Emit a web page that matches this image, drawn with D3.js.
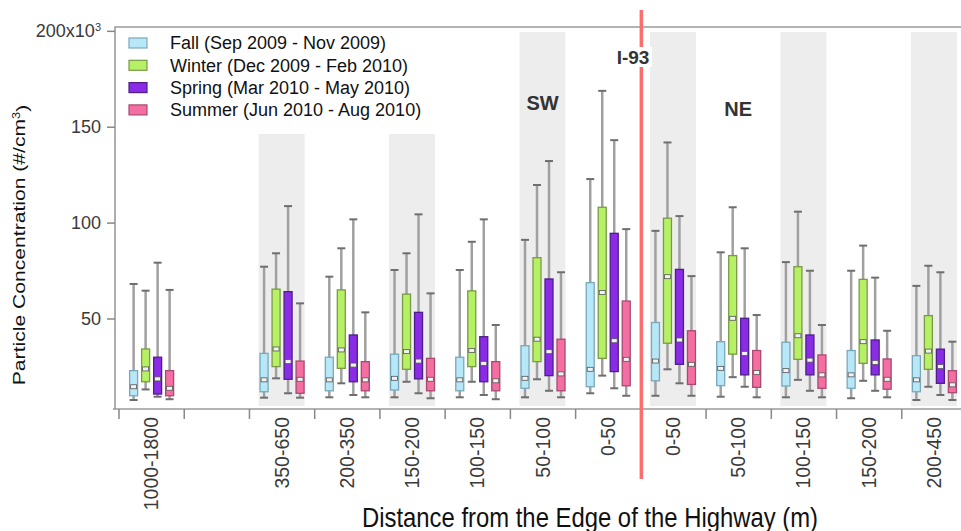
<!DOCTYPE html>
<html>
<head>
<meta charset="utf-8">
<script src="https://cdn.jsdelivr.net/npm/d3@7"></script>
<style>
  body { margin: 0; background: #fff; }
  svg { display: block; font-family: "Liberation Sans", Arial, sans-serif; }
  .tick text { fill: #3a3a3a; }
</style>
</head>
<body>
<div id="chart"></div>
<script>
// distance classes, left = SW side, right = NE side (slot 1 is an empty gap)
const labels = ['1000-1800', '', '350-650', '200-350', '150-200', '100-150', '50-100',
                '0-50', '0-50', '50-100', '100-150', '150-200', '200-450'];
const shaded = [2, 4, 6, 8, 10, 12];
const seasons = ['Fall (Sep 2009 - Nov 2009)', 'Winter (Dec 2009 - Feb 2010)',
                 'Spring (Mar 2010 - May 2010)', 'Summer (Jun 2010 - Aug 2010)'];
const yTicks = [50, 100, 150, 200];

// [low whisker, q1, median, q3, high whisker] in 10^3 #/cm3
const fall = [
  [7.5, 9.7, 14.4, 22.8, 68.0], null,
  [8.7, 11.8, 18.0, 31.8, 77.0], [8.9, 12.3, 18.0, 29.8, 71.8],
  [8.9, 12.7, 18.8, 31.4, 75.3], [8.9, 12.3, 18.0, 29.8, 75.3],
  [8.9, 13.6, 18.8, 35.8, 91.0], [11.0, 14.4, 23.5, 68.7, 122.7],
  [9.7, 17.5, 27.8, 47.9, 95.7], [9.2, 15.0, 24.0, 37.9, 84.5],
  [8.9, 14.8, 22.8, 37.6, 79.4], [8.4, 13.6, 20.6, 33.3, 74.9],
  [7.5, 11.8, 18.0, 30.6, 67.0]
];
const winter = [
  [13.0, 17.0, 23.7, 34.1, 64.5], null,
  [18.8, 24.9, 34.1, 65.3, 84.0], [16.2, 24.0, 33.6, 64.9, 86.6],
  [17.0, 23.5, 32.7, 62.7, 84.0], [17.0, 24.9, 33.3, 64.4, 90.0],
  [18.3, 27.5, 39.2, 81.7, 119.6], [20.2, 29.2, 63.6, 108.0, 168.7],
  [23.5, 37.1, 71.8, 102.3, 141.8], [19.4, 31.4, 50.1, 82.8, 108.0],
  [18.0, 28.7, 41.0, 77.0, 105.7], [17.5, 26.6, 37.9, 70.4, 88.0],
  [14.4, 23.5, 33.0, 51.5, 77.5]
];
const spring = [
  [9.2, 10.6, 18.5, 29.8, 79.1], null,
  [11.0, 18.3, 27.5, 64.0, 108.6], [10.1, 17.0, 25.7, 41.4, 101.7],
  [11.0, 18.5, 27.8, 53.2, 104.3], [10.1, 17.0, 26.6, 40.5, 101.7],
  [12.3, 20.2, 32.7, 70.6, 132.1], [13.6, 22.3, 38.4, 94.4, 143.0],
  [16.2, 26.1, 38.8, 75.6, 103.4], [14.4, 20.6, 31.8, 50.1, 86.6],
  [12.3, 20.6, 28.3, 41.4, 74.9], [12.3, 20.6, 27.1, 38.8, 71.3],
  [10.1, 16.2, 24.9, 34.0, 74.1]
];
const summer = [
  [7.9, 9.7, 13.6, 22.8, 64.9], null,
  [8.7, 11.0, 18.3, 27.8, 57.9], [8.9, 12.3, 18.0, 27.5, 53.2],
  [8.4, 12.3, 18.3, 29.2, 63.1], [7.9, 12.3, 17.5, 27.5, 46.6],
  [8.9, 12.3, 21.1, 39.2, 74.1], [9.7, 14.9, 28.7, 59.1, 96.6],
  [9.7, 15.6, 26.1, 43.6, 72.1], [8.9, 14.1, 21.8, 33.3, 51.8],
  [8.9, 13.6, 20.6, 31.0, 46.6], [8.9, 13.1, 18.3, 28.9, 43.6],
  [7.5, 11.3, 15.4, 22.8, 37.9]
];
const series = [fall, winter, spring, summer];
const fills = ['#b8e7f7', '#b6f064', '#8a2be6', '#f46ea2'];
const strokes = ['#78a9bb', '#7a9a48', '#4d1f8a', '#a84a72'];

const svgWidth = 961, svgHeight = 531;
const plotLeft = 115, plotTop = 27, plotBottom = 409;

const svg = d3.select('#chart').append('svg')
  .attr('width', svgWidth)
  .attr('height', svgHeight);

const x = d3.scaleBand().domain(d3.range(labels.length)).range([118.5, 966.5]);
const xEdge = d3.scaleLinear().domain([0, labels.length]).range([118.5, 966.5]);
const inner = d3.scaleBand().domain(d3.range(seasons.length))
  .range([-23.5, 24.5]).paddingInner(0.25).paddingOuter(0.125);
const y = d3.scaleLinear().domain([2.8, 202]).range([plotBottom, plotTop]);

// grey bands behind alternate distance classes
svg.append('g').selectAll('rect').data(shaded).enter().append('rect')
  .attr('x', d => x(d) + x.bandwidth() / 2 - 23)
  .attr('y', plotTop + 5)
  .attr('width', 46)
  .attr('height', plotBottom - plotTop - 8)
  .attr('fill', '#ededed');

// frame
svg.append('path')
  .attr('d', `M${plotLeft},${plotBottom}V${plotTop}H${svgWidth}M${plotLeft - 2},${plotBottom}H${svgWidth}`)
  .attr('fill', 'none')
  .attr('stroke', '#9a9a9a')
  .attr('stroke-width', 1.6);

// y axis
const yAxis = svg.append('g')
  .attr('transform', `translate(${plotLeft},0)`)
  .call(d3.axisLeft(y).tickValues(yTicks).tickSize(8).tickPadding(6));
yAxis.select('.domain').remove();
yAxis.selectAll('line').attr('stroke', '#888').attr('stroke-width', 1.5);
yAxis.selectAll('text').style('font-size', '18px');
yAxis.selectAll('.tick text').filter(d => d === 200).text('200x10')
  .append('tspan').attr('dy', '-0.55em').style('font-size', '11px').text('3');

// x axis: ticks at class boundaries, labels at centres
const xTicks = svg.append('g')
  .attr('transform', `translate(0,${plotBottom})`)
  .call(d3.axisBottom(xEdge).tickValues(d3.range(labels.length + 1)).tickSize(10).tickFormat(''));
xTicks.select('.domain').remove();
xTicks.selectAll('line').attr('stroke', '#888').attr('stroke-width', 1.5);

const xLabels = svg.append('g')
  .attr('transform', `translate(0,${plotBottom})`)
  .call(d3.axisBottom(x).tickSize(0).tickFormat(i => labels[i]));
xLabels.select('.domain').remove();
xLabels.selectAll('text')
  .attr('transform', 'rotate(-90)')
  .attr('x', -8)
  .attr('y', 0)
  .attr('dy', '0.36em')
  .style('text-anchor', 'end')
  .style('font-size', '19.5px');

// boxes
series.forEach((data, s) => {
  const g = svg.append('g');
  const items = data.map((d, i) => ({i, d})).filter(e => e.d);
  const cx = e => x(e.i) + x.bandwidth() / 2 + inner(s) + inner.bandwidth() / 2;

  g.selectAll('.whisker').data(items).enter().append('line')
    .attr('x1', cx).attr('x2', cx)
    .attr('y1', e => y(e.d[0])).attr('y2', e => y(e.d[4]))
    .attr('stroke', '#a0a0a0').attr('stroke-width', 2.5);

  [0, 4].forEach(k => {
    g.selectAll('.cap' + k).data(items).enter().append('line')
      .attr('x1', e => cx(e) - 4).attr('x2', e => cx(e) + 4)
      .attr('y1', e => y(e.d[k])).attr('y2', e => y(e.d[k]))
      .attr('stroke', '#6e6e6e').attr('stroke-width', 2);
  });

  g.selectAll('.box').data(items).enter().append('rect')
    .attr('x', e => cx(e) - inner.bandwidth() / 2 + 0.5)
    .attr('width', inner.bandwidth() - 1)
    .attr('y', e => y(e.d[3]))
    .attr('height', e => y(e.d[1]) - y(e.d[3]))
    .attr('fill', fills[s])
    .attr('stroke', strokes[s])
    .attr('stroke-width', 1.3);

  g.selectAll('.median').data(items).enter().append('rect')
    .attr('x', e => cx(e) - 3)
    .attr('width', 6)
    .attr('y', e => y(e.d[2]) - 2)
    .attr('height', 4)
    .attr('fill', '#f2f2f2')
    .attr('stroke', '#555')
    .attr('stroke-width', 0.8);
});

// legend
svg.append('rect')
  .attr('x', plotLeft + 3).attr('y', plotTop + 2)
  .attr('width', 322).attr('height', 105)
  .attr('fill', '#fff');
const legend = svg.append('g').selectAll('g').data(seasons).enter().append('g')
  .attr('transform', (d, i) => `translate(129,${43 + i * 22.3})`);
legend.append('rect')
  .attr('x', 0).attr('y', -5)
  .attr('width', 18).attr('height', 10)
  .attr('fill', (d, i) => fills[i])
  .attr('stroke', (d, i) => strokes[i])
  .attr('stroke-width', 1.2);
legend.append('text')
  .attr('x', 41).attr('dy', '0.36em')
  .style('font-size', '18px')
  .attr('fill', '#111')
  .text(d => d);

// highway marker
const hx = xEdge(8) + 1;
svg.append('line')
  .attr('x1', hx).attr('x2', hx)
  .attr('y1', 10).attr('y2', 479)
  .attr('stroke', '#fa6e6e').attr('stroke-width', 3.5);
svg.append('rect')
  .attr('x', 613).attr('y', 47).attr('width', 39).attr('height', 20)
  .attr('fill', '#fff');
svg.append('text')
  .attr('x', 633).attr('y', 63.5)
  .attr('text-anchor', 'middle')
  .style('font-size', '19px').style('font-weight', 'bold')
  .attr('fill', '#333')
  .text('I-93');

svg.append('text')
  .attr('x', xEdge(6.5)).attr('y', 110)
  .attr('text-anchor', 'middle')
  .style('font-size', '20px').style('font-weight', 'bold')
  .attr('fill', '#333')
  .text('SW');
svg.append('text')
  .attr('x', xEdge(9.5)).attr('y', 115.5)
  .attr('text-anchor', 'middle')
  .style('font-size', '20px').style('font-weight', 'bold')
  .attr('fill', '#333')
  .text('NE');

// axis titles
const yTitle = svg.append('text')
  .attr('transform', 'translate(25,245) rotate(-90) scale(1.28,1)')
  .attr('text-anchor', 'middle')
  .style('font-size', '16.5px')
  .attr('fill', '#111');
yTitle.append('tspan').text('Particle Concentration (#/cm');
yTitle.append('tspan').attr('dy', '-0.5em').style('font-size', '10px').text('3');
yTitle.append('tspan').attr('dy', '0.5em').text(')');

svg.append('text')
  .attr('transform', 'translate(590,527) scale(0.884,1)')
  .attr('text-anchor', 'middle')
  .style('font-size', '27px')
  .attr('fill', '#111')
  .text('Distance from the Edge of the Highway (m)');
</script>
</body>
</html>
